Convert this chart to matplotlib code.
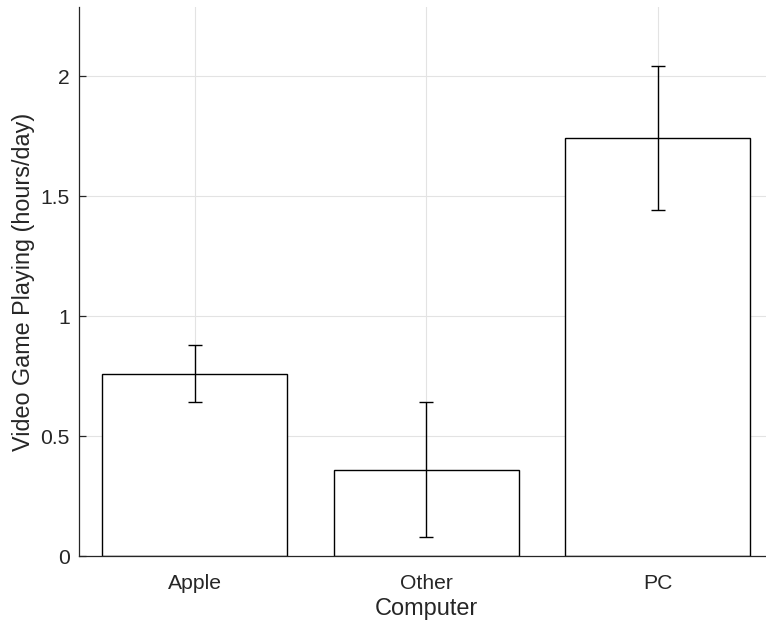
import matplotlib
matplotlib.use('Agg')
import matplotlib.pyplot as plt
import numpy as np

plt.rcParams['font.family'] = ['Liberation Sans', 'DejaVu Sans']

computers = ['Apple', 'Other', 'PC']
hours = [0.76, 0.36, 1.74]
err = [0.12, 0.28, 0.30]

fig = plt.figure(figsize=(7.66, 6.24), dpi=100)
# axes runs slightly past the right edge, like the original crop
ax = fig.add_axes([79/766, 1-556/624, (773.5-79)/766, (556-7)/624])

x = np.arange(1, len(computers)+1)
ax.bar(x, hours, width=0.8, color='white', edgecolor='black', linewidth=1.0, zorder=2)
ax.errorbar(x, hours, yerr=err, fmt='none', ecolor='black', elinewidth=1.0,
            capsize=4.7, capthick=1.0, zorder=3)

ax.set_xlim(0.5, 3.5)
ax.set_ylim(0, 2.2875)
ax.set_xticks(x)
ax.set_xticklabels(computers)
ax.set_yticks([0, 0.5, 1, 1.5, 2])
ax.set_yticklabels(['0', '0.5', '1', '1.5', '2'])

ax.grid(True, color='#e3e3e3', linewidth=0.8, zorder=0)
ax.set_axisbelow(True)
for s in ['top', 'right']:
    ax.spines[s].set_visible(False)
for s in ['left', 'bottom']:
    ax.spines[s].set_color('#262626')
    ax.spines[s].set_linewidth(0.9)
ax.tick_params(direction='in', length=5, width=0.9, colors='#262626', labelsize=15.2)
ax.tick_params(axis='x', pad=13)
ax.tick_params(axis='y', pad=6.5)

ax.set_xlabel('Computer', fontsize=16.9, color='#262626', labelpad=3)
ax.set_ylabel('Video Game Playing (hours/day)', fontsize=16.8, color='#262626', labelpad=4)

fig.savefig('out.png', dpi=100)
